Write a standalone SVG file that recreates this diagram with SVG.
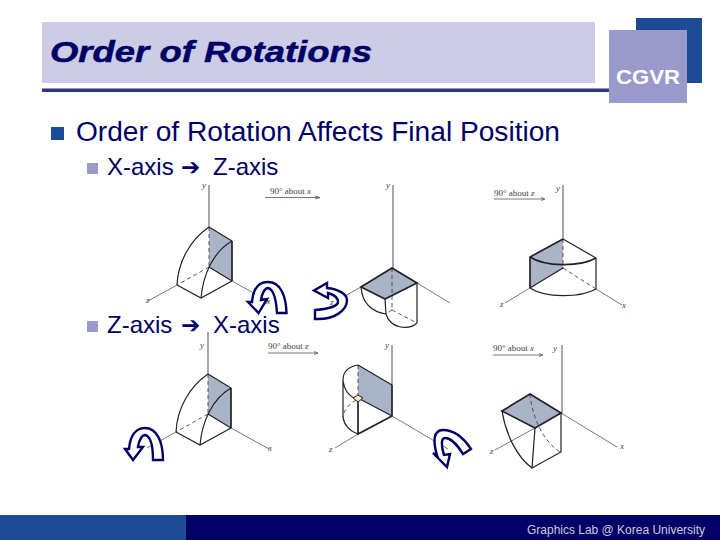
<svg xmlns="http://www.w3.org/2000/svg" width="720" height="540" viewBox="0 0 720 540">
<style>
.sans{font-family:"Liberation Sans",Arial,sans-serif}
.main{font-size:27px;fill:#000066}
.sub{font-size:24px;fill:#000066}
.ax{stroke:#666677;stroke-width:.9;fill:none}
.ay{stroke:#778;stroke-width:1.3;fill:none}
.e{stroke:#222;stroke-width:1.2;fill:none}
.t{stroke:#222;stroke-width:1.7;fill:none}
.d{stroke:#444;stroke-width:.9;fill:none;stroke-dasharray:4 3}
.g{fill:#a9b4c8;stroke:none}
.l{font-family:"Liberation Serif",serif;font-style:italic;font-size:9px;fill:#444}
.c{font-family:"Liberation Serif",serif;font-size:9px;fill:#444}
.cl{stroke:#555;stroke-width:.8;fill:none}
.rot{fill:#fff;stroke:#000066;stroke-width:2.4;stroke-linejoin:miter}
</style>
<defs>
<g id="shape1">
<path class="g" d="M209 227L232 241V281L209 267Z"/>
<path class="ay" d="M209 185V227"/>
<path class="d" d="M209 227V267M209 267L177 285"/>
<path class="ax" d="M232 281L270 302M177 285L148 301"/>
<path class="e" d="M209 267L232 281"/>
<path class="e" d="M209 227L232 241"/>
<path class="t" d="M232 241V281"/>
<path class="e" d="M232 281L201 298L177 285"/>
<path class="e" d="M209 227C190 240 178 262 177 285"/>
<path class="e" d="M232 241C213 252 203 275 201 298"/>
</g>
</defs>
<rect width="720" height="540" fill="#fff"/>
<g id="header">
<rect x="42" y="22" width="553" height="61" fill="#ccccE6"/>
<rect x="42" y="88.500" width="570" height="3.500" fill="#333388"/>
<rect x="636" y="18" width="66" height="65" fill="#1c4a94"/>
<rect x="609" y="30" width="78" height="73" fill="#9999cc"/>
<text class="sans" x="616" y="84" font-size="20" font-weight="700" fill="#fff" textLength="64" lengthAdjust="spacingAndGlyphs">CGVR</text>
<text class="sans" x="50" y="62" font-size="30" font-weight="700" font-style="italic" fill="#000066" stroke="#000066" stroke-width=".5" textLength="322" lengthAdjust="spacingAndGlyphs">Order of Rotations</text>
</g>
<g id="bullets">
<rect x="51" y="127" width="13" height="13" fill="#1c4a94"/>
<text class="sans main" x="76" y="141" textLength="484" lengthAdjust="spacingAndGlyphs">Order of Rotation Affects Final Position</text>
<rect x="87" y="163" width="11" height="11" fill="#9999cc"/>
<text class="sans sub" y="175"><tspan x="107">X-axis</tspan><tspan x="181" font-family="'DejaVu Sans'" font-size="23">➔</tspan><tspan x="213">Z-axis</tspan></text>
<rect x="87" y="321" width="11" height="11" fill="#9999cc"/>
<text class="sans sub" y="333"><tspan x="107">Z-axis</tspan><tspan x="181" font-family="'DejaVu Sans'" font-size="23">➔</tspan><tspan x="213">X-axis</tspan></text>
</g>
<g id="fig-top-left">
<use href="#shape1"/>
<text class="l" x="202" y="188">y</text><text class="l" x="146" y="303">z</text><text class="l" x="266" y="304">x</text>
<text class="c" x="270" y="194">90° about <tspan font-style="italic">x</tspan></text>
<path class="cl" d="M265 197.500H319M315 196L320 197.500L315 199"/>
</g>
<g id="fig-top-mid">
<path class="g" d="M392 268L417 283L385 299L361 287Z"/>
<path class="ay" d="M393 185V268"/>
<path class="d" d="M392 268V310M392 310L417 323M392 310L386 314"/>
<path class="ax" d="M417 283L450 303M361 287L345 296"/>
<path class="t" d="M392 268L417 283L385 299L361 287Z"/>
<path class="e" d="M417 283V323M385 299L386 314M361 287C362 303 372 312 386 314M386 314C390 328 408 331 417 323"/>
<text class="l" x="386" y="188">y</text><text class="l" x="330" y="305">z</text>
</g>
<g id="fig-top-right">
<path class="g" d="M563 239L530 257V288L563 268Z"/>
<path class="ay" d="M563 185V239"/>
<path class="d" d="M563 239V268M563 268L596 289"/>
<path class="ax" d="M530 288L505 303M596 289L622 305"/>
<path class="e" d="M563 268L530 288"/>
<path class="e" d="M563 239L596 258V289M530 288C545 298 580 298 596 289"/>
<path class="t" d="M563 239L530 257V288M530 257C545 267 580 267 596 258"/>
<text class="l" x="556" y="191">y</text><text class="l" x="500" y="307">z</text><text class="l" x="622" y="308">x</text>
<text class="c" x="494" y="196">90° about <tspan font-style="italic">z</tspan></text>
<path class="cl" d="M494 199H544M541 197.500L545 199L541 200.500"/>
</g>
<g id="fig-bottom-left">
<use href="#shape1" transform="translate(-1 147)"/>
<text class="l" x="200" y="348">y</text><text class="l" x="268" y="451">x</text>
<text class="c" x="268" y="349">90° about <tspan font-style="italic">z</tspan></text>
<path class="cl" d="M268 353H317M314 351.500L318 353L314 354.500"/>
</g>
<g id="fig-bottom-mid">
<path class="g" d="M358 365L392 385V416L358 398Z"/>
<path class="ay" d="M392 345V385"/>
<path class="d" d="M358 365V398M356 400C348 405 344 410 343 417"/>
<path class="ax" d="M392 416L448 449M358 434L335 448"/>
<path class="e" d="M358 398L392 416M358 365L392 385"/>
<path class="t" d="M392 385V416L358 434V402"/>
<path class="e" d="M358 365C347 367 343 373 343 380V417C344 425 350 431 358 434M343 380C344 390 350 397 358 400"/>
<path d="M353 398L358 395L363 398L358 402Z" fill="#eee8c8" stroke="#222" stroke-width="1"/>
<text class="l" x="385" y="348">y</text><text class="l" x="329" y="452">z</text>
</g>
<g id="fig-bottom-right">
<path class="g" d="M530 394L561 413L535 428L502 411Z"/>
<path class="ay" d="M562 345V413"/>
<path class="d" d="M530 394C532 418 544 442 560 452"/>
<path class="ax" d="M561 413L617 447M535 428L495 450"/>
<path class="t" d="M530 394L561 413L535 428L502 411Z"/>
<path class="e" d="M561 413V452L532 468L535 428M502 411C506 435 517 457 532 468"/>
<text class="l" x="553" y="351">y</text><text class="l" x="490" y="454">z</text><text class="l" x="620" y="449">x</text>
<text class="c" x="493" y="351">90° about <tspan font-style="italic">x</tspan></text>
<path class="cl" d="M493 355H542M539 353.500L543 355L539 356.500"/>
</g>
<g id="connectors">
<path class="rot" d="M286.500 313C286 295 280 282 268 282C258 282 253 290 252 302L248 302L258.500 313L267 299L261 300C262 293 265 288 268 288C273 289 276 298 277 313Z"/>
<path class="rot" d="M163 460C163 442 157 428 145 428C135 428 130 437 129 449L125 449L133 460L143 447L138 447C139 440 142 435 145 435C150 436 153 445 153 460Z"/>
<path class="rot" d="M471 449L463 454C457 444 450 438 445 438C441 438 441 446 444 455L450 454L447 467L433 453L437 455C433 442 433 430 443 430C453 430 463 437 471 449Z"/>
<path class="rot" d="M327 283L314 290.500L328 298V293C335 295 338 298 338 302C338 306 328 309 315 310V319C335 320 347 310 347 300C347 294 338 289 327 288Z"/>
</g>
<g id="footer">
<rect y="515" width="720" height="25" fill="#000066"/>
<rect y="515" width="186" height="25" fill="#1c4a94"/>
<text class="sans" x="527" y="534" font-size="12" fill="#ccd" textLength="178">Graphics Lab @ Korea University</text>
</g>
</svg>
